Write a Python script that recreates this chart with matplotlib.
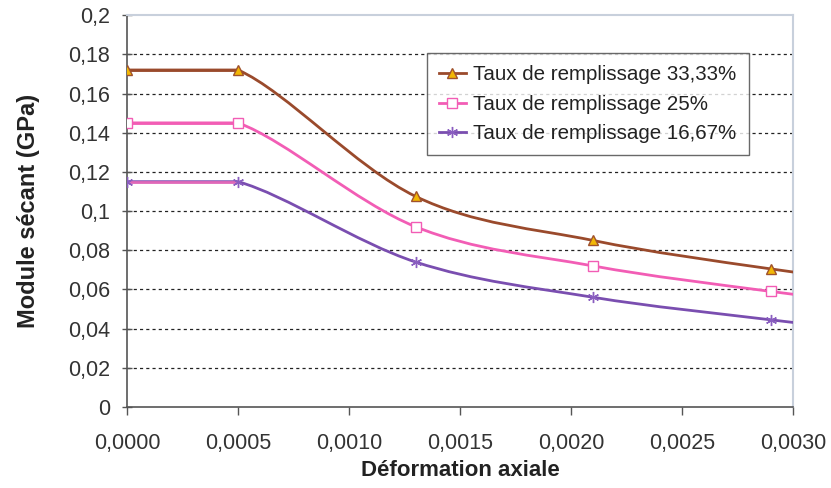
import numpy as np
import matplotlib
matplotlib.use("Agg")
import matplotlib.pyplot as plt
from matplotlib.path import Path
from matplotlib.patches import PathPatch
from matplotlib.lines import Line2D
from matplotlib.ticker import FixedLocator

# ---- data ----
strain = [0.0, 0.0005, 0.0013, 0.0021, 0.0029, 0.0037]
taux_3333 = [0.172, 0.172, 0.1075, 0.085, 0.0705, 0.059]
taux_25 = [0.145, 0.145, 0.092, 0.072, 0.059, 0.048]
taux_1667 = [0.115, 0.115, 0.074, 0.056, 0.0445, 0.034]
labels = ["Taux de remplissage 33,33%", "Taux de remplissage 25%", "Taux de remplissage 16,67%"]
y_ticks = [0, 0.02, 0.04, 0.06, 0.08, 0.1, 0.12, 0.14, 0.16, 0.18, 0.2]
y_tick_labels = ["0", "0,02", "0,04", "0,06", "0,08", "0,1", "0,12", "0,14", "0,16", "0,18", "0,2"]
x_ticks = [0.0, 0.0005, 0.0010, 0.0015, 0.0020, 0.0025, 0.0030]
x_tick_labels = ["0,0000", "0,0005", "0,0010", "0,0015", "0,0020", "0,0025", "0,0030"]

plt.rcParams['font.family'] = ['Liberation Sans', 'DejaVu Sans']

fig = plt.figure(figsize=(8.31, 4.88), dpi=100)
ax = fig.add_axes([0.153, 0.166, 0.801, 0.803])


def smooth_path(x, y):
    """Excel-like smoothed line: first segment straight, rest Catmull-Rom Bezier."""
    P = np.column_stack([x, y]).astype(float)
    n = len(P)
    verts = [P[0]]
    codes = [Path.MOVETO]
    verts.append(P[1]); codes.append(Path.LINETO)
    for i in range(1, n - 1):
        p0 = P[i - 1]
        p1 = P[i]
        p2 = P[i + 1]
        p3 = P[i + 2] if i + 2 < n else P[i + 1]
        c1 = p1 + (p2 - p0) / 6.0
        c2 = p2 - (p3 - p1) / 6.0
        verts += [c1, c2, p2]
        codes += [Path.CURVE4] * 3
    return Path(verts, codes)


series = [
    (taux_3333, "#9A4A2C", dict(marker="^", mfc="#F2B705", mec="#A0522D", ms=7.5), "#9A4A2C"),
    (taux_25, "#F25DB5", dict(marker="s", mfc="white", mec="#F25DB5", ms=7), "#F25DB5"),
    (taux_1667, "#7A4EB0", dict(marker=(6, 2, 0), mfc="#7A4EB0", mec="#8A5EC0", ms=8, mew=1.0), "#E068B8"),
]

handles = []
for (vals, col, mk, first_col), lab in zip(series, labels):
    path = smooth_path(strain, vals)
    patch = PathPatch(path, facecolor="none", edgecolor=col, lw=2.0, zorder=3)
    ax.add_patch(patch)
    ax.plot(strain[:2], vals[:2], color=first_col, lw=2.0, zorder=3.5, solid_capstyle="butt")
    ax.plot(strain, vals, linestyle="none", zorder=4, **mk)
    handles.append(Line2D([0], [0], color=col, lw=2.0, **mk))

ax.set_xlim(0, 0.003)
ax.set_ylim(0, 0.2)

ax.yaxis.set_major_locator(FixedLocator(y_ticks))
ax.set_yticklabels(y_tick_labels)
ax.xaxis.set_major_locator(FixedLocator(x_ticks))
ax.set_xticklabels(x_tick_labels)

for yv in y_ticks[1:-1]:
    ax.axhline(yv, color="#222222", lw=0.9, ls=(0, (2.5, 2.5)), zorder=1)

ax.tick_params(axis="y", direction="inout", length=7, width=1, color="#555555",
               labelsize=15.5, labelcolor="#333333", pad=9)
ax.tick_params(axis="x", direction="out", length=6, width=1, color="#555555",
               labelsize=15.5, labelcolor="#333333", pad=13)

ax.spines["left"].set_color("#555555")
ax.spines["bottom"].set_color("#555555")
ax.spines["left"].set_linewidth(1.2)
ax.spines["bottom"].set_linewidth(1.2)
ax.spines["top"].set_color("#C8D0DC")
ax.spines["right"].set_color("#C8D0DC")
ax.spines["top"].set_linewidth(1.5)
ax.spines["right"].set_linewidth(1.5)

ax.set_xlabel("Déformation axiale", fontsize=16, fontweight="bold", color="#222222", labelpad=4)
ax.set_ylabel("Module sécant (GPa)", fontsize=17, fontweight="bold", color="#222222", labelpad=20)

leg = ax.legend(handles, labels, loc="upper left", bbox_to_anchor=(0.450, 0.903),
                fontsize=14.8, frameon=True, fancybox=False, handlelength=1.3,
                handletextpad=0.35, borderpad=0.6, labelspacing=0.5, borderaxespad=0)
leg.get_frame().set_edgecolor("#444444")
leg.get_frame().set_linewidth(1.0)
for t in leg.get_texts():
    t.set_color("#222222")

fig.savefig("out.png", dpi=100)
